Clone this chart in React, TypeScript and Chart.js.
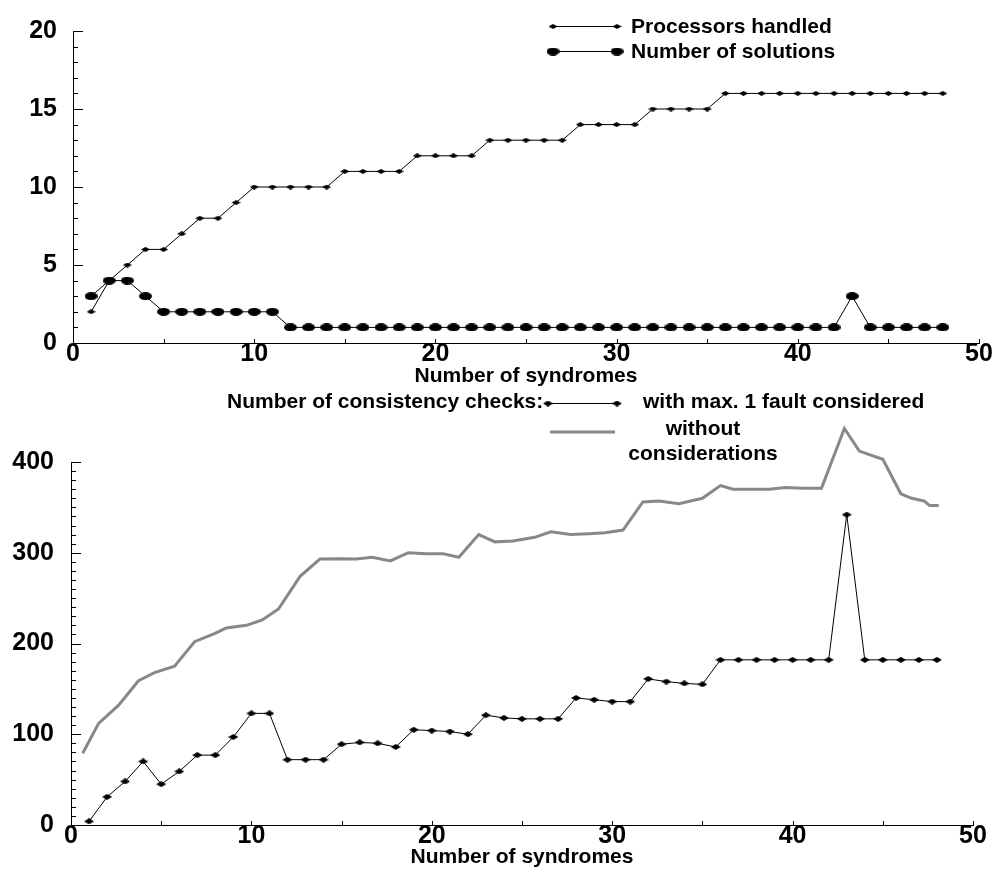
import React, { useEffect, useRef } from 'react';
import { Chart, registerables } from 'chart.js';

Chart.register(...registerables);

// ---------- data ----------
const syndromes = [1, 2, 3, 4, 5, 6, 7, 8, 9, 10, 11, 12, 13, 14, 15, 16, 17, 18, 19, 20, 21, 22, 23, 24, 25, 26, 27, 28, 29, 30, 31, 32, 33, 34, 35, 36, 37, 38, 39, 40, 41, 42, 43, 44, 45, 46, 47, 48];

const processorsHandled = [2, 4, 5, 6, 6, 7, 8, 8, 9, 10, 10, 10, 10, 10, 11, 11, 11, 11, 12, 12, 12, 12, 13, 13, 13, 13, 13, 14, 14, 14, 14, 15, 15, 15, 15, 16, 16, 16, 16, 16, 16, 16, 16, 16, 16, 16, 16, 16];

const numberOfSolutions = [3, 4, 4, 3, 2, 2, 2, 2, 2, 2, 2, 1, 1, 1, 1, 1, 1, 1, 1, 1, 1, 1, 1, 1, 1, 1, 1, 1, 1, 1, 1, 1, 1, 1, 1, 1, 1, 1, 1, 1, 1, 1, 3, 1, 1, 1, 1, 1];

const checksMaxOneFault = [4, 31, 48, 70, 45, 59, 77, 77, 97, 123, 123, 72, 72, 72, 89, 91, 90, 86, 105, 104, 103, 100, 121, 118, 117, 117, 117, 140, 138, 136, 136, 161, 158, 156, 155, 182, 182, 182, 182, 182, 182, 182, 342, 182, 182, 182, 182, 182];

const withoutX = [0.65, 1.53, 2.64, 3.74, 4.63, 5.74, 6.85, 7.95, 8.6, 9.72, 10.6, 11.5, 12.7, 13.8, 14.8, 15.8, 16.7, 17.7, 18.7, 19.7, 20.6, 21.5, 22.6, 23.5, 24.5, 25.7, 26.6, 27.7, 28.7, 29.6, 30.6, 31.7, 32.6, 33.7, 35.0, 36.0, 36.7, 38.7, 39.6, 40.6, 41.6, 42.87, 43.7, 45.0, 46.0, 46.6, 47.3, 47.6, 48.1];
const withoutY = [79, 112, 132, 159, 168, 175, 202, 211, 217, 220, 226, 238, 274, 293, 293.5, 293, 295, 291, 300, 299, 299, 295, 320, 312, 313, 317, 323, 320, 321, 322, 325, 356, 357, 354, 360, 374, 370, 370, 372, 371, 371, 437, 412, 403, 365, 360, 357, 352, 352];

const xAxisTitle = 'Number of syndromes';
const topLegendLabels = ['Processors handled', 'Number of solutions'];
const bottomLegendTitle = 'Number of consistency checks:';
const bottomLegendLabels = ['with max. 1 fault considered', 'without', 'considerations'];

const xTickStep = 10;
const xMinorStep = 5;
const topYTickStep = 5;
const topYMinorStep = 1;
const bottomYTickStep = 100;
const bottomYMinorStep = 10;

const FONT = '"Liberation Sans", Arial, Helvetica, sans-serif';

// ---------- markers ----------
function makeDiamond(w: number, h: number) {
  const c = document.createElement('canvas');
  c.width = w;
  c.height = h;
  const g = c.getContext('2d')!;
  g.fillStyle = '#000';
  g.beginPath();
  g.moveTo(w / 2, 0);
  g.lineTo(w, h / 2);
  g.lineTo(w / 2, h);
  g.lineTo(0, h / 2);
  g.closePath();
  g.fill();
  return c;
}

function makeEllipse(w: number, h: number) {
  const c = document.createElement('canvas');
  c.width = w;
  c.height = h;
  const g = c.getContext('2d')!;
  g.fillStyle = '#000';
  g.beginPath();
  g.ellipse(w / 2, h / 2, w / 2, h / 2, 0, 0, Math.PI * 2);
  g.fill();
  return c;
}

function innerTicksPlugin(majorY: number, minorY: number, minorX: number) {
  return {
    id: 'innerTicks',
    afterDraw(chart: any) {
      const ctx = chart.ctx;
      const xs = chart.scales.x;
      const ys = chart.scales.y;
      const area = chart.chartArea;
      ctx.save();
      ctx.strokeStyle = '#000';
      ctx.lineWidth = 1;
      ctx.beginPath();
      for (let v = ys.min; v <= ys.max + 1e-9; v += minorY) {
        const len = Math.abs(v % majorY) < 1e-9 ? 10 : 5;
        const py = Math.round(ys.getPixelForValue(v)) + 0.5;
        ctx.moveTo(area.left, py);
        ctx.lineTo(area.left + len, py);
      }
      for (let v = xs.min; v <= xs.max + 1e-9; v += minorX) {
        const px = Math.round(xs.getPixelForValue(v)) + 0.5;
        ctx.moveTo(px, area.bottom);
        ctx.lineTo(px, area.bottom - 4);
      }
      ctx.stroke();
      ctx.restore();
    },
  };
}

function drawSample(ctx: any, x1: number, x2: number, y: number, color: string, width: number, marker?: HTMLCanvasElement) {
  ctx.save();
  ctx.strokeStyle = color;
  ctx.lineWidth = width;
  ctx.beginPath();
  ctx.moveTo(x1, y);
  ctx.lineTo(x2, y);
  ctx.stroke();
  if (marker) {
    ctx.drawImage(marker, x1 - marker.width / 2, y - marker.height / 2);
    ctx.drawImage(marker, x2 - marker.width / 2, y - marker.height / 2);
  }
  ctx.restore();
}

function tickFont() {
  return { family: FONT, size: 25, weight: 'bold' as const };
}

export default function App() {
  const topRef = useRef<HTMLCanvasElement>(null);
  const botRef = useRef<HTMLCanvasElement>(null);

  useEffect(() => {
    const diamondTop = makeDiamond(9, 5);
    const ellipse = makeEllipse(13, 8);
    const diamondBot = makeDiamond(10, 6);

    const topText = {
      id: 'topText',
      afterDraw(chart: any) {
        const ctx = chart.ctx;
        const area = chart.chartArea;
        ctx.save();
        drawSample(ctx, 553, 617, 26.5, '#000', 1, diamondTop);
        drawSample(ctx, 553, 617, 51.5, '#000', 1, ellipse);
        ctx.fillStyle = '#000';
        ctx.font = `bold 21px ${FONT}`;
        ctx.textAlign = 'left';
        ctx.textBaseline = 'alphabetic';
        ctx.fillText(topLegendLabels[0], 631, 33);
        ctx.fillText(topLegendLabels[1], 631, 58);
        ctx.textAlign = 'center';
        ctx.fillText(xAxisTitle, (area.left + area.right) / 2, 382);
        ctx.restore();
      },
    };

    const botText = {
      id: 'botText',
      afterDraw(chart: any) {
        const ctx = chart.ctx;
        const area = chart.chartArea;
        ctx.save();
        drawSample(ctx, 548, 617, 13.5, '#000', 1, diamondBot);
        drawSample(ctx, 550, 615, 42, '#888888', 3);
        ctx.fillStyle = '#000';
        ctx.font = `bold 21px ${FONT}`;
        ctx.textBaseline = 'alphabetic';
        ctx.textAlign = 'left';
        ctx.fillText(bottomLegendTitle, 227, 18);
        ctx.fillText(bottomLegendLabels[0], 643, 18);
        ctx.textAlign = 'center';
        ctx.fillText(bottomLegendLabels[1], 703, 45);
        ctx.fillText(bottomLegendLabels[2], 703, 70);
        ctx.fillText(xAxisTitle, (area.left + area.right) / 2, 473);
        ctx.restore();
      },
    };

    const topChart = new Chart(topRef.current!, {
      type: 'line',
      data: {
        datasets: [
          {
            label: topLegendLabels[0],
            data: syndromes.map((x, i) => ({ x, y: processorsHandled[i] })),
            borderColor: '#000',
            backgroundColor: '#000',
            borderWidth: 1,
            pointStyle: diamondTop as any,
            pointRadius: 4,
            tension: 0,
          },
          {
            label: topLegendLabels[1],
            data: syndromes.map((x, i) => ({ x, y: numberOfSolutions[i] })),
            borderColor: '#000',
            backgroundColor: '#000',
            borderWidth: 1,
            pointStyle: ellipse as any,
            pointRadius: 6,
            tension: 0,
          },
        ],
      },
      options: {
        animation: false,
        responsive: false,
        devicePixelRatio: 1,
        layout: { padding: { top: 23, right: 18, left: 0, bottom: 0 } },
        plugins: { legend: { display: false }, tooltip: { enabled: false } },
        scales: {
          x: {
            type: 'linear',
            min: 0,
            max: 50,
            grid: { display: false, drawTicks: false },
            border: { display: true, color: '#000', width: 1 },
            ticks: { stepSize: xTickStep, font: tickFont(), color: '#000', padding: -4, maxRotation: 0, autoSkip: false },
            afterFit: (s: any) => { s.height = 47; },
          },
          y: {
            type: 'linear',
            min: 0,
            max: 20,
            grid: { display: false, drawTicks: false },
            border: { display: true, color: '#000', width: 1 },
            ticks: { stepSize: topYTickStep, font: tickFont(), color: '#000', padding: 16 },
            afterFit: (s: any) => { s.width = 73; },
          },
        },
      },
      plugins: [innerTicksPlugin(topYTickStep, topYMinorStep, xMinorStep), topText],
    });

    const botChart = new Chart(botRef.current!, {
      type: 'line',
      data: {
        datasets: [
          {
            label: bottomLegendLabels[1] + ' ' + bottomLegendLabels[2],
            data: withoutX.map((x, i) => ({ x, y: withoutY[i] })),
            borderColor: '#888888',
            borderWidth: 3,
            pointRadius: 0,
            tension: 0,
            clip: false as any,
          },
          {
            label: bottomLegendLabels[0],
            data: syndromes.map((x, i) => ({ x, y: checksMaxOneFault[i] })),
            borderColor: '#000',
            backgroundColor: '#000',
            borderWidth: 1,
            pointStyle: diamondBot as any,
            pointRadius: 4,
            tension: 0,
          },
        ],
      },
      options: {
        animation: false,
        responsive: false,
        devicePixelRatio: 1,
        layout: { padding: { top: 72, right: 24, left: 0, bottom: 0 } },
        plugins: { legend: { display: false }, tooltip: { enabled: false } },
        scales: {
          x: {
            type: 'linear',
            min: 0,
            max: 50,
            grid: { display: false, drawTicks: false },
            border: { display: true, color: '#000', width: 1 },
            ticks: { stepSize: xTickStep, font: tickFont(), color: '#000', padding: -4, maxRotation: 0, autoSkip: false },
            afterFit: (s: any) => { s.height = 44; },
          },
          y: {
            type: 'linear',
            min: 0,
            max: 400,
            grid: { display: false, drawTicks: false },
            border: { display: true, color: '#000', width: 1 },
            ticks: { stepSize: bottomYTickStep, font: tickFont(), color: '#000', padding: 17 },
            afterFit: (s: any) => { s.width = 71; },
          },
        },
      },
      plugins: [innerTicksPlugin(bottomYTickStep, bottomYMinorStep, xMinorStep), botText],
    });

    return () => {
      topChart.destroy();
      botChart.destroy();
    };
  }, []);

  return (
    <div style={{ position: 'absolute', left: 0, top: 0, width: 997, height: 869, background: '#fff' }}>
      <canvas ref={topRef} width={997} height={390} style={{ display: 'block', position: 'absolute', left: 0, top: 0 }} />
      <canvas ref={botRef} width={997} height={479} style={{ display: 'block', position: 'absolute', left: 0, top: 390 }} />
    </div>
  );
}
